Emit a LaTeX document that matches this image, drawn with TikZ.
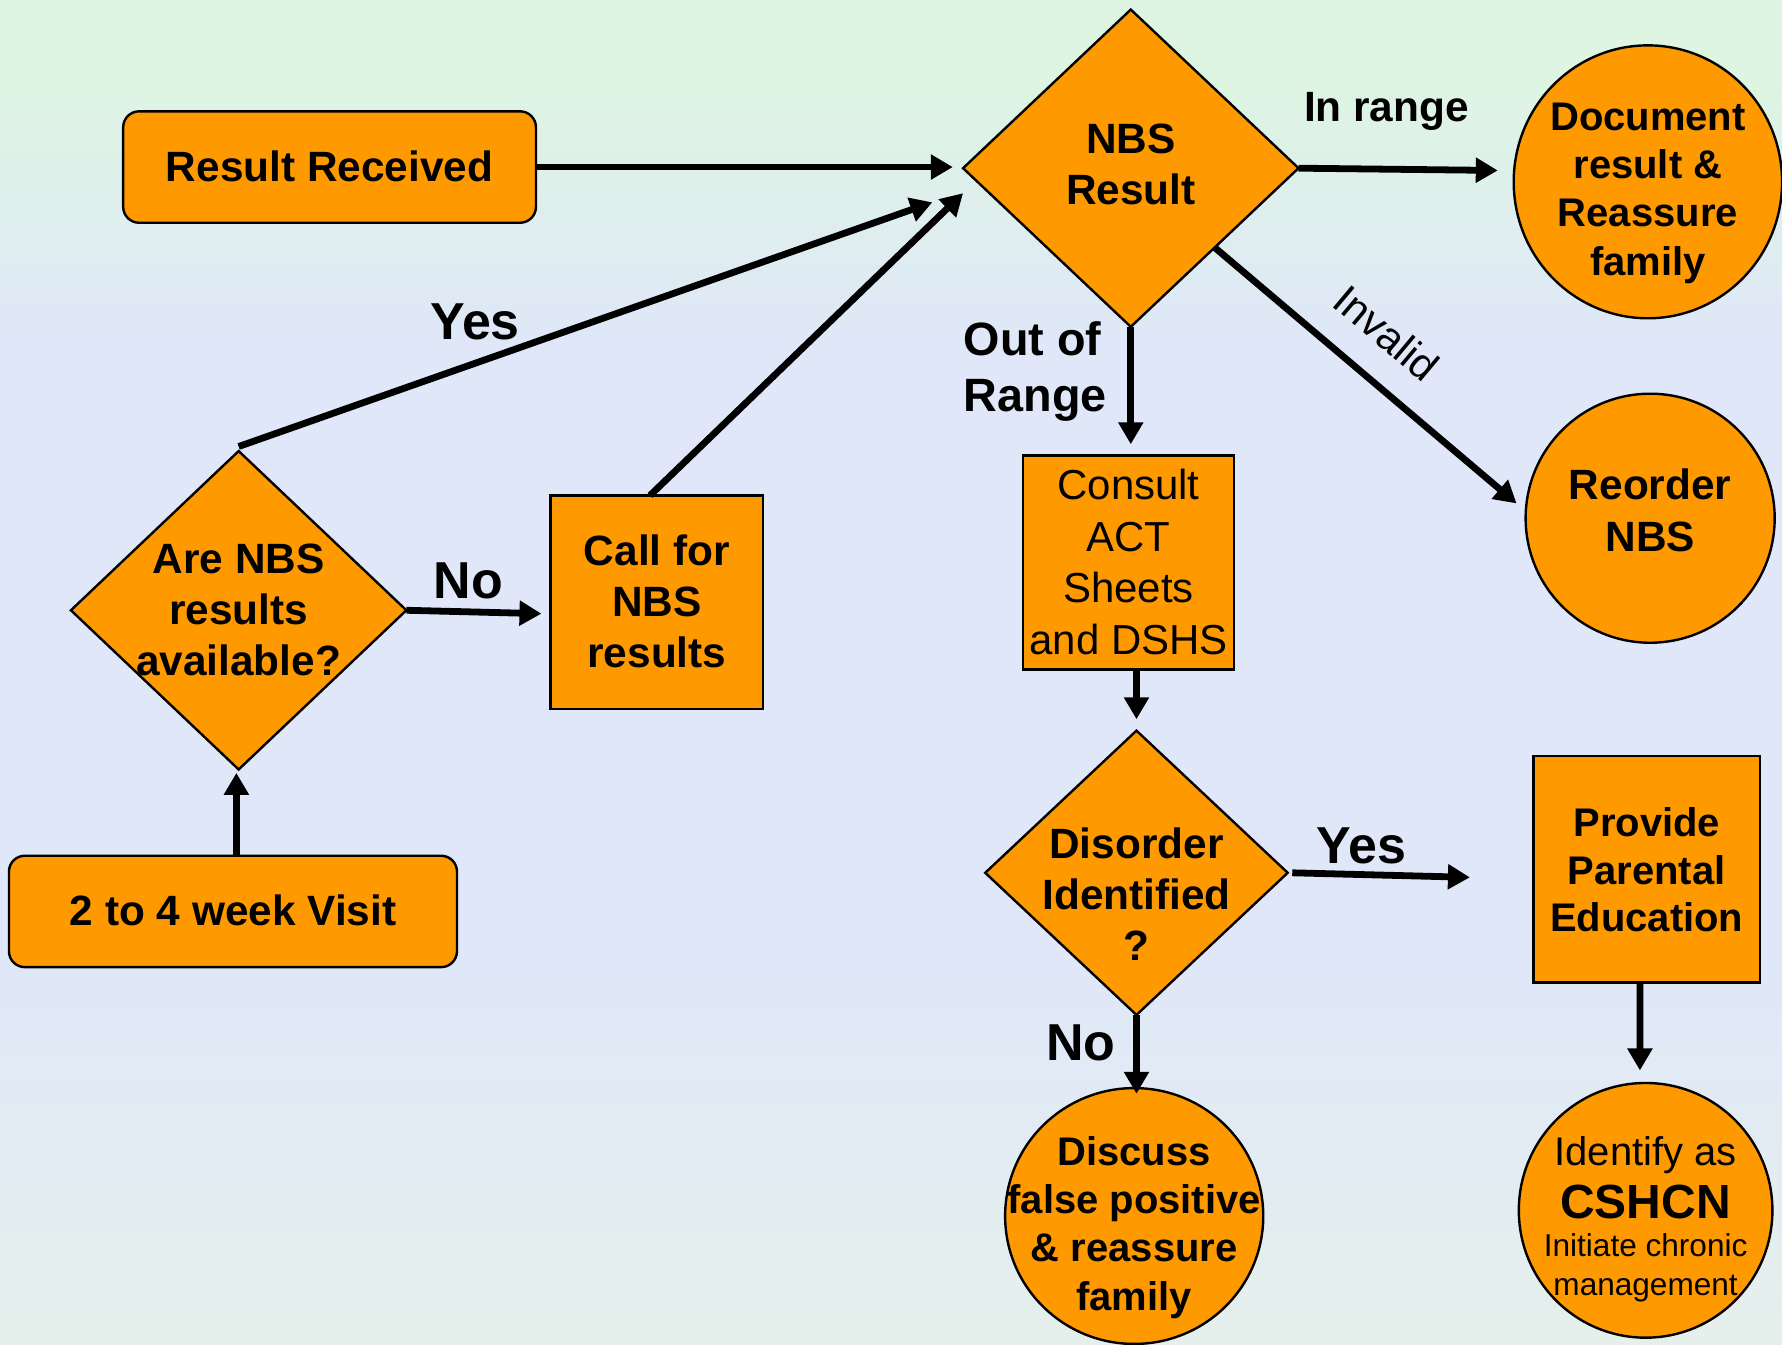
\documentclass[tikz,border=0pt]{standalone}
\usepackage{fontspec}
\setmainfont{Liberation Sans}
\usetikzlibrary{arrows.meta,shapes.geometric,calc}
\definecolor{BoxClr}{RGB}{255,153,0}
\definecolor{BgTop}{RGB}{222,245,226}
\definecolor{BgMid}{RGB}{223,231,249}
\definecolor{BgBot}{RGB}{229,240,236}
\pgfdeclareverticalshading{bgshade}{100bp}{color(0bp)=(BgBot); color(25bp)=(BgBot); color(40bp)=(BgMid); color(62bp)=(BgMid); color(72bp)=(BgTop); color(100bp)=(BgTop)}
\newcommand{\inbox}[2][-3.8pt]{\smash{\makebox[0pt]{\raisebox{#1}{\begin{tabular}{@{}c@{}}#2\end{tabular}}}}}

\begin{document}
\begin{tikzpicture}[x=0.01cm,y=-0.01cm,
  every node/.style={inner sep=0pt,outer sep=0pt},
  shp/.style={draw=black,line width=0.6pt,fill=BoxClr,font=\fontsize{10.6}{12.8}\selectfont\bfseries},
  roundbox/.style={shp,rectangle,rounded corners=0.14cm,minimum height=0.98cm},
  sqbox/.style={shp,rectangle},
  decide/.style={shp,diamond},
  oval/.style={shp,ellipse,font=\fontsize{10}{12.1}\selectfont\bfseries},
  conn/.style={line width=1.7pt,-{Triangle[length=5.5pt,width=6pt]}},
  lbl/.style={font=\fontsize{13}{15}\selectfont\bfseries}]

\useasboundingbox (0,0) rectangle (1568,1183);
\shade[shading=bgshade] (0,0) rectangle (1568,1183);

% boxes
\node[roundbox,minimum width=3.63cm] (rr) at (290,147) {\inbox{Result Received}};
\node[roundbox,minimum width=3.94cm] (visit) at (205,802) {\inbox{2 to 4 week Visit}};
\node[decide,minimum width=2.95cm,minimum height=2.79cm] (nbs) at (995,148) {\inbox[-2.8pt]{NBS\\Result}};
\node[decide,minimum width=2.95cm,minimum height=2.80cm] (ask) at (210,537) {\inbox{Are NBS\\results\\available?}};
\node[decide,minimum width=2.66cm,minimum height=2.50cm] (dis) at (1000,768) {\inbox[-9.4pt]{Disorder\\Identified\\?}};
\node[sqbox,minimum width=1.87cm,minimum height=1.88cm] (call) at (578,530) {\inbox{Call for\\NBS\\results}};
\node[sqbox,minimum width=1.86cm,minimum height=1.88cm,font=\fontsize{10.5}{12.9}\selectfont] (consult) at (993,495) {\inbox{Consult\\ACT\\Sheets\\and DSHS}};
\node[sqbox,minimum width=1.99cm,minimum height=1.99cm,font=\fontsize{10}{11.9}\selectfont\bfseries] (prov) at (1449,765) {\inbox{Provide\\Parental\\Education}};
\node[oval,minimum width=2.36cm,minimum height=2.40cm] (doc) at (1450,160) {\inbox[-5.3pt]{Document\\result \&\\Reassure\\family}};
\node[oval,minimum width=2.19cm,minimum height=2.19cm,font=\fontsize{10.6}{12.8}\selectfont\bfseries] (reorder) at (1452,456) {\inbox[-2pt]{Reorder\\NBS}};
\node[oval,minimum width=2.27cm,minimum height=2.25cm] (discuss) at (998,1070) {\inbox[-5.5pt]{Discuss\\false positive\\\& reassure\\family}};
\node[oval,minimum width=2.23cm,minimum height=2.24cm,font=\fontsize{10}{12.2}\selectfont] (ident) at (1448,1065) {\inbox[-5pt]{Identify as\\[1.2pt]
  {\fontsize{12}{13}\selectfont\bfseries CSHCN}\\[-2.7pt]
  {\fontsize{7.9}{9.5}\selectfont Initiate chronic}\\[-2.6pt]
  {\fontsize{7.9}{9.5}\selectfont management}}};

% connectors
\draw[conn] (rr.east) -- ([xshift=-0.09cm]rr.east -| nbs.west);
\draw[conn] ([yshift=0.04cm]ask.north) -- ([xshift=-0.27cm,yshift=-0.30cm]nbs.west);
\draw[conn] ([xshift=-0.06cm]call.north) -- ([yshift=-0.22cm]nbs.west);
\draw[conn] (nbs.east) -- ([xshift=-0.14cm,yshift=-0.02cm]nbs.east -| doc.west);
\draw[conn] (nbs.south east) -- ([xshift=-0.08cm,yshift=0.13cm]reorder.west);
\draw[conn] (nbs.south) -- ([yshift=0.1cm]nbs.south |- consult.north);
\draw[conn] (dis.north |- consult.south) -- ([yshift=0.1cm]dis.north);
\draw[conn] (ask.east) -- ([xshift=-0.08cm,yshift=-0.03cm]ask.east -| call.west);
\draw[conn] ([xshift=-0.02cm]ask.south |- visit.north) -- ([xshift=-0.02cm,yshift=-0.03cm]ask.south);
\draw[conn] ([xshift=0.04cm]dis.east) -- ([xshift=-0.56cm,yshift=-0.04cm]dis.east -| prov.west);
\draw[conn] (dis.south) -- ([yshift=-0.05cm]dis.south |- discuss.north);
\draw[conn] ([xshift=-0.06cm]prov.south) -- ([xshift=-0.05cm,yshift=0.11cm]ident.north);

% labels
\node[lbl] (yes1) at (418,283) {Yes};
\node[lbl] (no1) at (412,511) {No};
\node[lbl] (yes2) at (1198,744) {Yes};
\node[lbl] (no2) at (951,918) {No};
\node[font=\fontsize{10.6}{12.8}\selectfont\bfseries] (inr) at (1220,98) {In range};
\node[font=\fontsize{11.7}{14.2}\selectfont\bfseries,align=left,anchor=west] (outr) at (848,327) {Out of\\Range};
\node[font=\fontsize{10.5}{12}\selectfont,rotate=-40] (inv) at (1220,293) {Invalid};

\end{tikzpicture}
\end{document}
